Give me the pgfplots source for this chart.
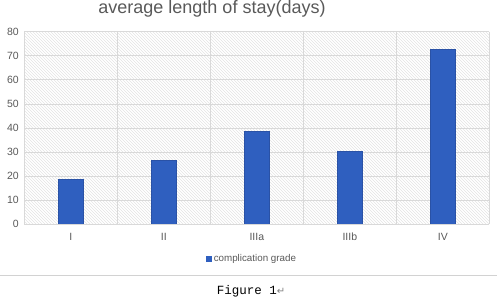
\documentclass[border=0pt]{standalone}
\usepackage{pgfplots}
\pgfplotsset{compat=1.18}
\usetikzlibrary{patterns}
\usepackage{fontspec}
\setmainfont{Liberation Sans}
\setmonofont{Liberation Mono}
\newfontfamily\symfont{DejaVu Sans}
\definecolor{barblue}{HTML}{2F5FBF}
\definecolor{baredge}{HTML}{2A52A6}
\definecolor{txtgray}{HTML}{595959}
\definecolor{gridgray}{HTML}{D9D9D9}
\begin{document}
\begin{tikzpicture}[x=1pt,y=1pt]
\useasboundingbox (0,0) rectangle (498,299);
\begin{axis}[
  at={(24.3pt,75pt)}, anchor=south west,
  scale only axis, width=465pt, height=192.3pt,
  xmin=-0.5, xmax=4.5, ymin=0, ymax=80,
  xtick={0,1,2,3,4}, xticklabels={I,II,IIIa,IIIb,IV},
  minor xtick={-0.5,0.5,1.5,2.5,3.5,4.5},
  ytick={0,10,...,80},
  xminorgrids=true, ymajorgrids=true,
  grid style={gridgray, line width=0.6pt},
  minor grid style={gridgray, line width=0.6pt},
  axis line style={draw=none},
  tick style={draw=none},
  major tick length=0pt, minor tick length=0pt,
  ticklabel style={font=\fontsize{10.5}{12}\selectfont, text=txtgray},
  /pgf/number format/assume math mode=true,
  xticklabel style={yshift=-5pt, text height=8pt, text depth=0pt},
  yticklabel style={xshift=-2pt},
  axis background/.style={pattern=north west lines, pattern color=gray!22},
  ybar, bar width=24.7pt,
  legend style={at={(0.49,-0.182)}, anchor=center, draw=none, fill=none,
    font=\fontsize{9.8}{11}\selectfont, text=txtgray,
    inner sep=0pt, legend cell align=left},
  legend image code/.code={\fill[barblue] (0pt,-2.5pt) rectangle (5pt,2.5pt);},
]
\addplot[fill=barblue, draw=baredge, line width=0.5pt] coordinates {(0,18.6) (1,26.6) (2,38.4) (3,30.1) (4,72.7)};
\addlegendentry{complication grade}
\end{axis}
\node[anchor=base, text=txtgray, font=\fontsize{18}{20}\selectfont, inner sep=0pt] at (212,285) {average length of stay(days)};
\draw[gray!35, line width=1pt] (0,23) -- (497,23);
\node[anchor=base, font=\ttfamily\fontsize{12.5}{14}\selectfont, inner sep=0pt] at (251,4) {Figure 1{\symfont\fontsize{10}{12}\selectfont\color{gray}↵}};
\end{tikzpicture}
\end{document}
